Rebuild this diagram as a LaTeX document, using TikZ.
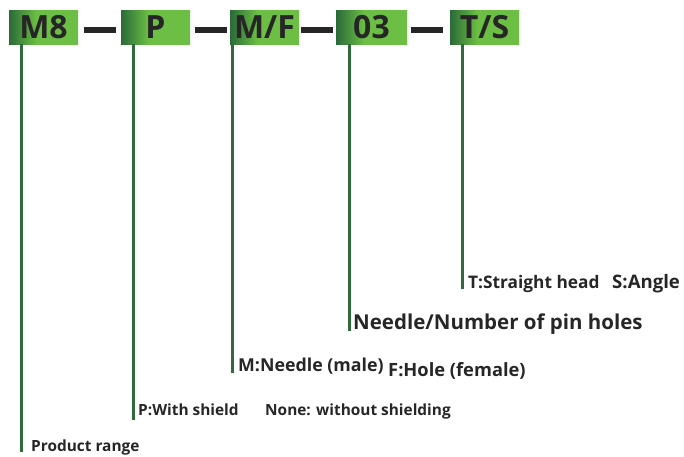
\documentclass[tikz,border=0pt]{standalone}
\usepackage{fontspec}
\setmainfont{Open Sans}
\definecolor{dg}{HTML}{2B6A38}
\definecolor{lg}{HTML}{6CBF44}
\definecolor{ink}{HTML}{262626}
\definecolor{stem}{HTML}{2F6B3B}
\pgfdeclarehorizontalshading{boxgrad}{100bp}{color(0bp)=(dg); color(25bp)=(dg); color(45bp)=(lg); color(100bp)=(lg)}
\tikzset{
  codebox/.style={shading=boxgrad, minimum height=34pt, inner sep=0pt, text=ink, font=\bfseries\fontsize{32}{32}\selectfont},
  dashline/.style={draw=ink, line width=6pt},
  stemline/.style={draw=stem, line width=3pt},
  lab/.style={anchor=base west, inner sep=0pt, text=ink, font=\bfseries\fontsize{15.4}{16}\selectfont},
  labsz/.style={lab, font=\bfseries\fontsize{#1}{#1}\selectfont}
}
\begin{document}
\begin{tikzpicture}[x=1pt,y=-1pt]
\useasboundingbox (0,0) rectangle (684,456);
% code boxes
\node[codebox, minimum width=69pt] (m8) at (43.5,27) {M8};
\node[codebox, minimum width=69pt] (p) at (155.5,27) {P};
\node[codebox, minimum width=69pt] (mf) at (264.5,27) {M/F};
\node[codebox, minimum width=71pt] (n03) at (371.5,27) {03};
\node[codebox, minimum width=69pt] (ts) at (484.5,27) {T/S};
% dashes
\draw[dashline] ([xshift=6pt,yshift=-3pt]m8.east) -- ([xshift=-5pt,yshift=-3pt]p.west);
\draw[dashline] ([xshift=5pt,yshift=-3pt]p.east) -- ([xshift=-3pt,yshift=-3pt]mf.west);
\draw[dashline] ([xshift=2pt,yshift=-3pt]mf.east) -- ([xshift=-3pt,yshift=-3pt]n03.west);
\draw[dashline] ([xshift=4pt,yshift=-3pt]n03.east) -- ([xshift=-7pt,yshift=-3pt]ts.west);
% stem ends
\coordinate (e1) at (21.5,452);
\coordinate (e2) at (133,420);
\coordinate (e3) at (232,372.5);
\coordinate (e4) at (349,330.5);
\coordinate (e5) at (462,289);
% stems
\draw[stemline] (m8.south -| e1) -- (e1);
\draw[stemline] (p.south -| e2) -- (e2);
\draw[stemline] (mf.south -| e3) -- (e3);
\draw[stemline] (n03.south -| e4) -- (e4);
\draw[stemline] (ts.south -| e5) -- (e5);
% labels
\node[lab] (l1) at (31,451) {Product range};
\node[lab] (l2a) at (138,415.7) {P:With shield};
\node[lab] (l2b) at (265,415.7) {None: without shielding};
\node[labsz=17.8] (l3a) at (238,371.7) {M:Needle (male)};
\node[labsz=18.3] (l3b) at (388,376) {F:Hole (female)};
\node[labsz=20.5] (l4) at (353,329) {Needle/Number of pin holes};
\node[labsz=17.3] (l5a) at (468,288) {T:Straight head};
\node[labsz=18.6] (l5b) at (612,288) {S:Angle};
\end{tikzpicture}
\end{document}
